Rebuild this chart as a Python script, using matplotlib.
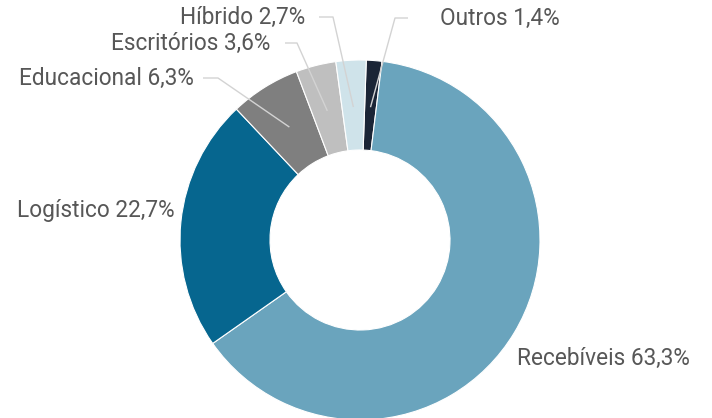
import matplotlib
matplotlib.use("Agg")
import matplotlib.pyplot as plt
import numpy as np

categories = ["Outros", "Recebíveis", "Logístico", "Educacional", "Escritórios", "Híbrido"]
values = [1.4, 63.3, 22.7, 6.3, 3.6, 2.7]
labels = ["Outros 1,4%", "Recebíveis 63,3%", "Logístico 22,7%", "Educacional 6,3%",
          "Escritórios 3,6%", "Híbrido 2,7%"]
colors = ["#1b2536", "#6aa4bd", "#06668f", "#7f7f7f", "#bfbfbf", "#cfe3ea"]

W, H = 712, 418
fig = plt.figure(figsize=(W / 100, H / 100), dpi=100)
ax = fig.add_axes([0, 0, 1, 1])
ax.set_xlim(0, W)
ax.set_ylim(0, H)
ax.set_aspect("equal")
ax.axis("off")

cx, cy, R = 360, H - 240, 180
start = 88
wedges, _ = ax.pie(values, colors=colors, startangle=start, counterclock=False,
                   radius=R, center=(cx, cy), frame=True,
                   wedgeprops=dict(width=R * 0.5, edgecolor="white", linewidth=0.8))
ax.set_xlim(0, W)
ax.set_ylim(0, H)
ax.axis("off")

txt = "#575757"
fs = 16.3
font = "Roboto"

# leader-line layout: (elbow x, elbow y in px-from-top, end x, text x, ha)
leaders = {
    "Outros": (395, 18, 408, 440, "left"),
    "Híbrido": (333, 17, 319, 305, "right"),
    "Escritórios": (297, 43, 285, 270, "right"),
    "Educacional": (218, 78, 203, 194, "right"),
}
direct = {
    "Recebíveis": (517, 358, "left"),
    "Logístico": (175, 210, "right"),
}

for w, cat, lab in zip(wedges, categories, labels):
    mid = np.deg2rad((w.theta1 + w.theta2) / 2)
    if cat in leaders:
        ex, ey, endx, tx, ha = leaders[cat]
        sx = cx + 0.74 * R * np.cos(mid)
        sy = cy + 0.74 * R * np.sin(mid)
        ax.plot([sx, ex, endx], [sy, H - ey, H - ey], color="#d3d3d3", lw=1.0,
                solid_capstyle="butt", zorder=5)
        ax.text(tx, H - ey, lab, ha=ha, va="center", fontsize=fs, color=txt,
                family=font)
    else:
        tx, ty, ha = direct[cat]
        ax.text(tx, H - ty, lab, ha=ha, va="center", fontsize=fs, color=txt,
                family=font)

fig.savefig("out.png", dpi=100)
